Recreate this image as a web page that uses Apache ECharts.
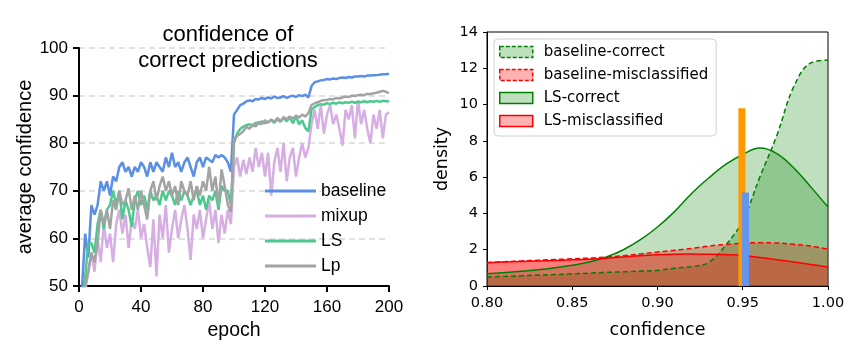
<!DOCTYPE html>
<html>
<head>
<meta charset="utf-8">
<script src="https://cdn.jsdelivr.net/npm/echarts@6/dist/echarts.min.js"></script>
<style>
  html, body { margin: 0; padding: 0; background: #fff; }
  #main { width: 856px; height: 357px; }
</style>
</head>
<body>
<div id="main"></div>
<script>
// left panel: confidence of correct predictions per epoch
var epochs = [0, 2, 4, 6, 8, 10, 12, 14, 16, 18, 20, 22, 24, 26, 28, 30, 32, 34, 36, 38,
  40, 42, 44, 46, 48, 50, 52, 54, 56, 58, 60, 62, 64, 66, 68, 70, 72, 74, 76, 78,
  80, 82, 84, 86, 88, 90, 92, 94, 96, 98, 100, 102, 104, 106, 108, 110, 112, 114, 116, 118,
  120, 122, 124, 126, 128, 130, 132, 134, 136, 138, 140, 142, 144, 146, 148, 150, 152, 154, 156, 158,
  160, 162, 164, 166, 168, 170, 172, 174, 176, 178, 180, 182, 184, 186, 188, 190, 192, 194, 196, 198, 200];

var baseline = [49, 50, 61, 56, 67, 65, 67, 72, 70, 72, 69, 73, 72, 75, 76, 74, 75, 73, 75, 74,
  76, 75, 73, 76, 74, 76, 75, 74, 77, 75, 78, 75, 76, 74, 76, 77, 75, 73, 76, 77,
  75, 77, 76.5, 76, 77.5, 77, 77.5, 77, 76, 74, 86, 87, 88, 88.3, 88.8, 89, 88.8, 89.3, 89.2, 89.5,
  89.3, 89.6, 89.4, 89.8, 89.5, 89.6, 89.9, 89.5, 89.8, 90, 89.7, 90.1, 89.9, 90.2, 89.6, 92, 92.8, 93, 93.2, 93.3,
  93.5, 93.4, 93.6, 93.5, 93.7, 93.8, 93.7, 93.9, 93.8, 94, 94, 94.1, 94, 94.2, 94.2, 94.3, 94.3, 94.4, 94.5, 94.5, 94.6];

var mixup = [45, 46, 49, 53, 57, 53, 60, 55, 63, 58, 61, 55, 63, 66, 61, 65, 58, 64, 62, 66,
  60, 63, 58, 54, 64, 52, 65, 60, 67, 57, 62, 66, 60, 64, 67, 62, 55.5, 65, 62, 66,
  60, 64, 68, 62, 66, 59, 65, 61, 66, 63, 75, 77, 73, 76.5, 73.5, 77, 74, 79, 75, 78,
  73, 78, 69, 76, 79, 74, 80, 72, 77, 79, 73, 77, 80, 77, 79, 84, 87, 83, 88, 82,
  86, 88, 84, 86, 83, 79.5, 87, 85, 88, 81, 89, 84, 87, 83, 80, 86, 83, 87, 81, 86, 86.5];

var ls = [45, 47, 52, 59, 59, 57, 63, 66, 62, 66, 67, 70, 67, 70, 64, 68, 66, 62.5, 68, 70,
  67, 69, 66, 70, 68, 69, 67, 70, 68, 70, 69, 67, 70, 68, 70, 69, 67, 69, 70, 67,
  69, 66, 69, 68, 70, 66, 71, 70, 70, 67, 80, 82, 83, 83.5, 83.8, 84, 83.5, 84.3, 84, 84.6,
  84.2, 84.5, 84.8, 84.3, 85, 84.5, 85.3, 84.6, 85.5, 84.2, 85.6, 84, 84.8, 83.2, 82.5, 87, 87.6, 88, 88.2, 88.1,
  88.4, 88.2, 88.5, 88.3, 88.6, 88.4, 88.6, 88.5, 88.7, 88.5, 88.7, 88.6, 88.8, 88.6, 88.8, 88.7, 88.9, 88.7, 88.9, 88.8, 88.8];

var lp = [45, 47, 50, 53, 57, 55, 59, 66, 63, 66, 62, 68, 66, 70, 67, 68, 70.5, 66, 69, 66,
  70, 67, 64, 70, 72, 68, 71, 73, 70, 72, 69, 71, 67, 72, 70, 69, 72, 68, 71, 69,
  72, 70, 75, 70, 73, 67, 74.5, 71, 67, 65.5, 81, 81.5, 82, 82.5, 83.5, 83, 84, 83.5, 84.5, 84,
  84.8, 84.3, 85, 84.5, 85.3, 84.6, 85.5, 85, 85.6, 85.2, 85.8, 85.4, 86, 85.6, 86.3, 88, 88.4, 88.6, 88.9, 89,
  89.1, 89.3, 89.2, 89.5, 89.4, 89.6, 89.8, 89.7, 90, 89.9, 90.1, 90.2, 90.1, 90.4, 90.3, 90.5, 90.6, 90.8, 91, 90.8, 90.5];

// right panel: density of confidence
var conf = [0.80, 0.81, 0.82, 0.83, 0.84, 0.85, 0.86, 0.87, 0.88, 0.89, 0.90,
  0.91, 0.92, 0.93, 0.94, 0.95, 0.96, 0.97, 0.98, 0.99, 1.00];
var baselineCorrect = [0.5, 0.53, 0.56, 0.6, 0.63, 0.67, 0.71, 0.75, 0.78, 0.82, 0.86,
  0.98, 1.07, 1.3, 2.25, 3.6, 6.0, 8.3, 11.0, 12.3, 12.45];
var baselineMis = [1.3, 1.34, 1.38, 1.42, 1.46, 1.5, 1.54, 1.6, 1.67, 1.77, 1.87,
  1.97, 2.07, 2.2, 2.29, 2.36, 2.39, 2.37, 2.3, 2.2, 2.03];
var lsCorrect = [0.68, 0.74, 0.81, 0.9, 1.0, 1.14, 1.32, 1.6, 2.0, 2.55, 3.25,
  4.1, 5.1, 5.95, 6.7, 7.25, 7.6, 7.3, 6.5, 5.45, 4.35];
var lsMis = [1.28, 1.32, 1.35, 1.38, 1.41, 1.44, 1.47, 1.53, 1.6, 1.67, 1.72,
  1.75, 1.76, 1.75, 1.73, 1.68, 1.57, 1.45, 1.32, 1.19, 1.05];
var barX = [0.9495, 0.9516];
var barH = [9.8, 5.15];

function pairs(xs, ys) {
  return xs.map(function (x, i) { return [x, ys[i]]; });
}

var myChart = echarts.init(document.getElementById('main'));

var leftFont = 'Liberation Sans';
var rightFont = 'DejaVu Sans';

function leftLine(name, data, color) {
  return {
    name: name, type: 'line', xAxisIndex: 0, yAxisIndex: 0,
    data: pairs(epochs, data), symbol: 'none', clip: true,
    lineStyle: { color: color, width: 2.5 }, itemStyle: { color: color }
  };
}

function density(name, data, color, fill, dashed) {
  return {
    name: name, type: 'line', xAxisIndex: 1, yAxisIndex: 1,
    data: pairs(conf, data), symbol: 'none', smooth: 0.4,
    lineStyle: { color: color, width: 1.5, type: dashed ? [5, 3] : 'solid' },
    itemStyle: { color: color },
    areaStyle: { color: fill, opacity: 1 }
  };
}

var option = {
  animation: false,
  textStyle: { fontFamily: leftFont },
  title: {
    text: 'confidence of\ncorrect predictions',
    left: 228, top: 22, padding: 0, textAlign: 'center',
    textStyle: { fontFamily: leftFont, fontSize: 22, fontWeight: 'normal', color: '#000', lineHeight: 26 }
  },
  legend: [{
    data: ['baseline', 'mixup', 'LS', 'Lp'],
    orient: 'vertical', left: 265, top: 181, padding: 0,
    icon: 'rect', itemWidth: 51, itemHeight: 3, itemGap: 5,
    selectedMode: false,
    textStyle: { fontFamily: leftFont, fontSize: 17.5, color: '#000', lineHeight: 20 }
  }, {
    data: [
      { name: 'baseline-correct', icon: 'rect', itemStyle: { color: 'rgba(0,128,0,0.25)', borderColor: '#008000', borderWidth: 1.5, borderType: [4, 2] } },
      { name: 'baseline-misclassified', icon: 'rect', itemStyle: { color: 'rgba(255,0,0,0.3)', borderColor: '#ff0000', borderWidth: 1.5, borderType: [4, 2] } },
      { name: 'LS-correct', icon: 'rect', itemStyle: { color: 'rgba(0,128,0,0.25)', borderColor: '#008000', borderWidth: 1.5, borderType: 'solid' } },
      { name: 'LS-misclassified', icon: 'rect', itemStyle: { color: 'rgba(255,0,0,0.3)', borderColor: '#ff0000', borderWidth: 1.5, borderType: 'solid' } }
    ],
    orient: 'vertical', left: 494, top: 39, padding: [4, 8, 6, 5],
    itemWidth: 33, itemHeight: 11, itemGap: 5,
    selectedMode: false,
    backgroundColor: 'rgba(255,255,255,0.8)', borderColor: '#d0d0d0', borderWidth: 1, borderRadius: 4,
    textStyle: { fontFamily: rightFont, fontSize: 15, color: '#000', lineHeight: 18, padding: [0, 0, 0, 6] }
  }],
  grid: [
    { left: 79, top: 48, width: 310, height: 238, outerBoundsMode: 'none' },
    { left: 487, top: 32, width: 341, height: 254, outerBoundsMode: 'none',
      show: true, borderColor: '#000', borderWidth: 1, backgroundColor: 'transparent' }
  ],
  xAxis: [{
    gridIndex: 0, type: 'value', min: 0, max: 200, interval: 40,
    name: 'epoch', nameLocation: 'middle', nameGap: 34,
    nameTextStyle: { fontFamily: leftFont, fontSize: 19.5, color: '#000' },
    axisLine: { lineStyle: { color: '#000', width: 2 } },
    axisTick: { show: true, length: 6, lineStyle: { color: '#000', width: 2 } },
    axisLabel: { fontFamily: leftFont, fontSize: 17, color: '#000', margin: 13 },
    splitLine: { show: false }
  }, {
    gridIndex: 1, type: 'value', min: 0.8, max: 1.0, interval: 0.05,
    name: 'confidence', nameLocation: 'middle', nameGap: 35,
    nameTextStyle: { fontFamily: rightFont, fontSize: 17.5, color: '#000' },
    axisLine: { lineStyle: { color: '#000', width: 1 } },
    axisTick: { show: true, length: 4, lineStyle: { color: '#000', width: 1 } },
    axisLabel: { fontFamily: rightFont, fontSize: 14.5, color: '#000', margin: 10,
      formatter: function (v) { return v.toFixed(2); } },
    splitLine: { show: false }
  }],
  yAxis: [{
    gridIndex: 0, type: 'value', min: 50, max: 100, interval: 10,
    name: 'average confidence', nameLocation: 'middle', nameGap: 41, nameRotate: 90,
    nameTextStyle: { fontFamily: leftFont, fontSize: 20, color: '#000' },
    axisLine: { show: true, lineStyle: { color: '#000', width: 2 } },
    axisTick: { show: true, length: 6, lineStyle: { color: '#000', width: 2 } },
    axisLabel: { fontFamily: leftFont, fontSize: 17, color: '#000', margin: 11 },
    splitLine: { show: true, lineStyle: { color: '#d9d9d9', width: 1.5, type: [6, 4] } }
  }, {
    gridIndex: 1, type: 'value', min: 0, max: 14, interval: 2,
    name: 'density', nameLocation: 'middle', nameGap: 36, nameRotate: 90,
    nameTextStyle: { fontFamily: rightFont, fontSize: 17.5, color: '#000' },
    axisLine: { show: true, lineStyle: { color: '#000', width: 1 } },
    axisTick: { show: true, length: 4, lineStyle: { color: '#000', width: 1 } },
    axisLabel: { fontFamily: rightFont, fontSize: 14.5, color: '#000', margin: 9 },
    splitLine: { show: false }
  }],
  series: [
    leftLine('baseline', baseline, '#5B8FE6'),
    leftLine('mixup', mixup, '#D7AEE3'),
    leftLine('LS', ls, '#4DC98F'),
    leftLine('Lp', lp, '#A3A3A3'),
    density('baseline-correct', baselineCorrect, '#008000', 'rgba(0,128,0,0.25)', true),
    density('baseline-misclassified', baselineMis, '#ff0000', 'rgba(255,0,0,0.3)', true),
    density('LS-correct', lsCorrect, '#008000', 'rgba(0,128,0,0.25)', false),
    density('LS-misclassified', lsMis, '#ff0000', 'rgba(255,0,0,0.3)', false),
    {
      name: 'thresholds', type: 'bar', xAxisIndex: 1, yAxisIndex: 1,
      barWidth: 7, z: 10,
      data: [
        { value: [barX[0], barH[0]], itemStyle: { color: '#FF9900', opacity: 1 } },
        { value: [barX[1], barH[1]], itemStyle: { color: '#6495ED', opacity: 1 } }
      ]
    }
  ]
};

myChart.setOption(option);
</script>
</body>
</html>
